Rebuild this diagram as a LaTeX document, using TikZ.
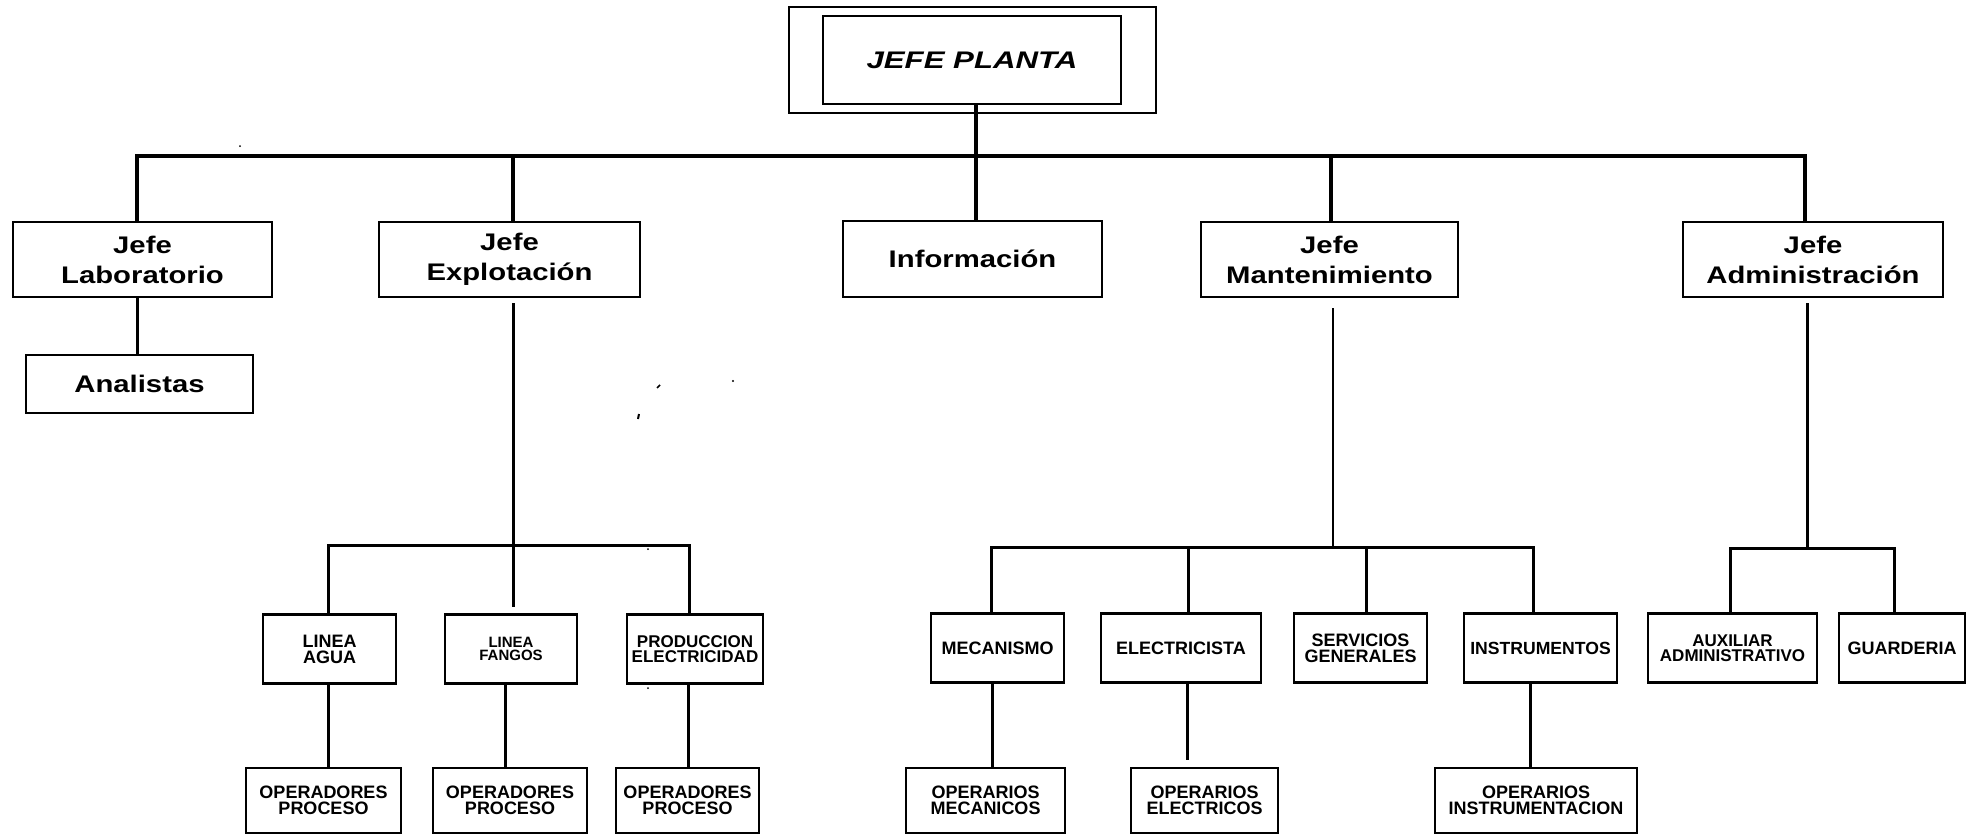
\documentclass[tikz,border=0pt]{standalone}
\usepackage{fontspec}
\setmainfont{Liberation Sans}
\newfontfamily\wideff[FakeStretch=1.22]{Liberation Sans}
\newfontfamily\titleff[FakeStretch=1.3]{Liberation Sans}
\begin{document}
\begin{tikzpicture}[x=1pt,y=-1pt,
  box/.style={draw, line width=2.5pt, inner sep=0pt, align=center},
  boxA/.style={box, minimum width=259pt, minimum height=75pt, font=\wideff\bfseries\fontsize{24}{30}\selectfont},
  boxB/.style={box, minimum height=69pt, font=\bfseries\fontsize{18}{16}\selectfont},
  boxC/.style={box, minimum height=65pt, font=\bfseries\fontsize{18}{16}\selectfont},
  bus/.style={line width=4.5pt},
  conn/.style={line width=3pt},
  thinconn/.style={line width=2.2pt}]
\useasboundingbox (0,0) rectangle (1970,836);

% title
\node[draw, line width=2pt, minimum width=367pt, minimum height=106pt] (outer) at (972.5,60) {};
\node[draw, line width=2.5pt, minimum width=298pt, minimum height=88pt, inner sep=0pt,
      font=\titleff\bfseries\itshape\fontsize{24}{28}\selectfont] (top) at (972,60) {JEFE PLANTA};

% level 1
\node[boxA] (lab) at (142.5,259.5) {Jefe\\Laboratorio};
\node[boxA, minimum width=227pt, minimum height=58pt] (ana) at (139.5,384) {Analistas};
\node[boxA, minimum width=261pt] (exp) at (509.5,259.5) {Jefe\\Explotación};
\node[boxA, minimum height=76pt] (inf) at (972.5,259) {Información};
\node[boxA, minimum width=257pt] (man) at (1329.5,259.5) {Jefe\\Mantenimiento};
\node[boxA, minimum width=260pt] (adm) at (1813,259.5) {Jefe\\Administración};

% level 2
\node[boxB, minimum width=133pt] (agua) at (329.5,649) {LINEA\\AGUA};
\node[boxB, minimum width=132pt, font=\bfseries\fontsize{15}{13}\selectfont] (fan) at (511,649) {LINEA\\FANGOS};
\node[boxB, minimum width=136pt, font=\bfseries\fontsize{17}{15.5}\selectfont] (pro) at (695,649) {PRODUCCION\\ELECTRICIDAD};
\node[boxB, minimum width=133pt] (mec) at (997.5,648) {MECANISMO};
\node[boxB, minimum width=160pt] (ele) at (1181,648) {ELECTRICISTA};
\node[boxB, minimum width=133pt] (ser) at (1360.5,648) {SERVICIOS\\GENERALES};
\node[boxB, minimum width=153pt, font=\bfseries\fontsize{17.6}{16}\selectfont] (ins) at (1540.5,648) {INSTRUMENTOS};
\node[boxB, minimum width=169pt, font=\bfseries\fontsize{17}{15}\selectfont] (aux) at (1732.5,648) {AUXILIAR\\ADMINISTRATIVO};
\node[boxB, minimum width=126pt] (gua) at (1902,648) {GUARDERIA};

% level 3
\node[boxC, minimum width=155pt] (op1) at (323.5,800.5) {OPERADORES\\PROCESO};
\node[boxC, minimum width=154pt] (op2) at (510,800.5) {OPERADORES\\PROCESO};
\node[boxC, minimum width=143pt] (op3) at (687.5,800.5) {OPERADORES\\PROCESO};
\node[boxC, minimum width=159pt] (opm) at (985.5,800.5) {OPERARIOS\\MECANICOS};
\node[boxC, minimum width=147pt] (ope) at (1204.5,800.5) {OPERARIOS\\ELECTRICOS};
\node[boxC, minimum width=202pt] (opi) at (1536,800.5) {OPERARIOS\\INSTRUMENTACION};

% coordinates
\coordinate (xL) at (137,156);
\coordinate (xE) at (513,156);
\coordinate (xI) at (976,156);
\coordinate (xM) at (1331,156);
\coordinate (xD) at (1805,156);
\coordinate (sE) at (0,545);
\coordinate (xa) at (328,0);
\coordinate (xp) at (689,0);
\coordinate (xf3) at (505,0);
\coordinate (xp3) at (688,0);
\coordinate (sM) at (0,547);
\coordinate (xMb) at (1333,0);
\coordinate (m1) at (991,0);
\coordinate (m2) at (1188,0);
\coordinate (m3) at (1366,0);
\coordinate (m4) at (1533,0);
\coordinate (m1b) at (992,0);
\coordinate (m2b) at (1187,0);
\coordinate (m4b) at (1530,0);
\coordinate (sA) at (0,548);
\coordinate (xDb) at (1807,0);
\coordinate (d1) at (1730,0);
\coordinate (d2) at (1894,0);

% main bus
\draw[bus] (lab.north -| xL) -- (xL) -- (xD) -- (adm.north -| xD);
\draw[bus] (exp.north -| xE) -- (xE);
\draw[bus] (top.south -| xI) -- (inf.north -| xI);
\draw[bus] (man.north -| xM) -- (xM);

% laboratorio
\draw[conn] (lab.south -| xL) -- (ana.north -| xL);

% explotacion
\draw[conn, shorten <=5pt, shorten >=6pt] (exp.south -| xE) -- (fan.north -| xE);
\draw[conn] (agua.north -| xa) -- (xa |- sE) -- (xp |- sE) -- (pro.north -| xp);
\draw[conn] (agua.south -| xa) -- (op1.north -| xa);
\draw[conn] (fan.south -| xf3) -- (op2.north -| xf3);
\draw[conn] (pro.south -| xp3) -- (op3.north -| xp3);

% mantenimiento
\draw[thinconn, shorten <=10pt] (man.south -| xMb) -- (xMb |- sM);
\draw[conn] (mec.north -| m1) -- (m1 |- sM) -- (m4 |- sM) -- (ins.north -| m4);
\draw[conn] (m2 |- sM) -- (ele.north -| m2);
\draw[conn] (m3 |- sM) -- (ser.north -| m3);
\draw[conn] (mec.south -| m1b) -- (opm.north -| m1b);
\draw[conn, shorten >=7pt] (ele.south -| m2b) -- (ope.north -| m2b);
\draw[conn] (ins.south -| m4b) -- (opi.north -| m4b);

% administracion
\draw[conn, shorten <=5pt] (adm.south -| xDb) -- (xDb |- sA);
\draw[conn] (aux.north -| d1) -- (d1 |- sA) -- (d2 |- sA) -- (gua.north -| d2);

% scan specks
\draw[line width=1.5pt] (657,388) -- (660,385);
\draw[line width=2pt] (639,414) -- (638,419);
\fill (733,381) circle (1.2pt);
\fill (240,146) circle (1pt);
\fill (648,549) circle (1pt);
\fill (648,688) circle (1pt);
\end{tikzpicture}
\end{document}
